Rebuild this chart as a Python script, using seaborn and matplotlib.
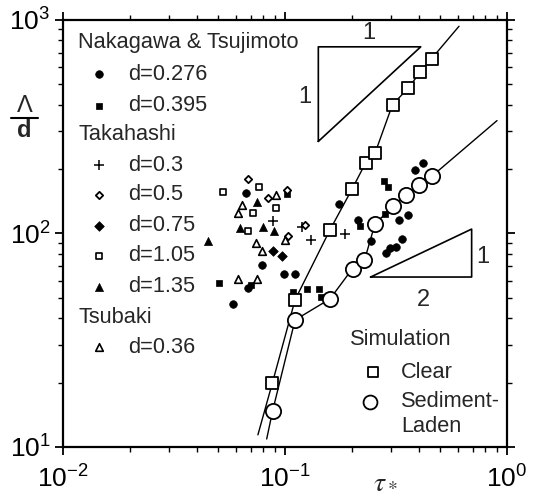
import matplotlib
matplotlib.use('Agg')
import matplotlib.pyplot as plt
import seaborn as sns
import pandas as pd
from matplotlib.lines import Line2D

sns.set_theme(style='ticks')
plt.rcParams['font.family'] = ['Liberation Sans', 'DejaVu Sans']

# ---------------- data (tau*, Lambda/d) ----------------
nak276_tau = [0.0667, 0.0788, 0.0990, 0.111, 0.0681, 0.0583, 0.1756, 0.2132, 0.2432,
              0.2851, 0.2972, 0.3178, 0.3365, 0.3262, 0.3583, 0.3850, 0.4164]
nak276_ld = [154.3, 70.8, 64.3, 64.3, 55.5, 46.7, 137.4, 115.7, 92.2,
             80.6, 85.2, 86.0, 93.9, 115.1, 121.7, 197.3, 212.8]

nak395_tau = [0.0504, 0.0703, 0.1021, 0.1092, 0.1260, 0.1423, 0.1453, 0.2177, 0.2792, 0.2896, 0.2822]
nak395_ld = [58.4, 57.4, 153.1, 53.2, 54.6, 54.7, 50.4, 108.4, 174.8, 164.6, 122.7]

tak03_tau = [0.0883, 0.1187, 0.1310, 0.1864]
tak03_ld = [114.4, 106.7, 92.7, 98.9]

tak05_tau = [0.0681, 0.0838, 0.1231, 0.1031, 0.1021]
tak05_ld = [180.0, 146.7, 109.0, 96.8, 159.0]

tak075_tau = [0.0883, 0.0969]
tak075_ld = [82.2, 77.9]

tak105_tau = [0.0524, 0.0761, 0.0721, 0.0683, 0.0911]
tak105_ld = [156.0, 164.3, 124.1, 102.2, 131.7]

tak135_tau = [0.0746, 0.0624, 0.0800, 0.0888, 0.0451]
tak135_ld = [140.4, 105.8, 107.3, 102.7, 92.2]

tsu036_tau = [0.0640, 0.0611, 0.0744, 0.0785, 0.0617, 0.0748, 0.0911, 0.1000]
tsu036_ld = [135.3, 124.1, 90.0, 82.2, 60.9, 61.2, 151.5, 93.2]

clear_tau = [0.0878, 0.1110, 0.1595, 0.2003, 0.2305, 0.2544, 0.305, 0.360, 0.4056, 0.458]
clear_ld = [20.0, 48.8, 103.8, 160.7, 212.8, 237.0, 400.0, 478.7, 566.0, 656.8]
clear_line_tau = [0.0755] + clear_tau + [0.608]
clear_line_ld = [11.4] + clear_ld + [930.0]

sed_tau = [0.0880, 0.1110, 0.1595, 0.2014, 0.228, 0.2544, 0.3075, 0.3508, 0.4027, 0.458]
sed_ld = [14.8, 39.3, 49.3, 68.3, 74.7, 110.8, 133.6, 151.5, 168.7, 184.6]
sed_line_tau = [0.0827] + sed_tau + [0.9016]
sed_line_ld = [10.9] + sed_ld + [336.5]

# slope triangles (annotation guides)
tri1_tau = [0.1413, 0.1413, 0.4087, 0.1413]
tri1_ld = [269, 745, 745, 269]
tri2_tau = [0.243, 0.693, 0.693, 0.243]
tri2_ld = [62.4, 62.4, 104.6, 62.4]

xtick_vals = [0.01, 0.1, 1]
xtick_labels = [r'$\mathregular{10^{-2}}$', r'$\mathregular{10^{-1}}$', r'$\mathregular{10^{0}}$']
ytick_vals = [10, 100, 1000]
ytick_labels = [r'$\mathregular{10^{1}}$', r'$\mathregular{10^{2}}$', r'$\mathregular{10^{3}}$']

# ---------------- figure ----------------
W, H = 534, 495
fig = plt.figure(figsize=(W / 100, H / 100), dpi=100)
ax = fig.add_axes([63 / W, 1 - 447 / H, 444 / W, 427.5 / H])
ax.set_xscale('log')
ax.set_yscale('log')
ax.set_xlim(0.01, 1)
ax.set_ylim(10, 1000)

# simulation lines
sns.lineplot(x=clear_line_tau, y=clear_line_ld, sort=False, estimator=None,
             color='black', lw=1.0, ax=ax, zorder=2)
sns.lineplot(x=sed_line_tau, y=sed_line_ld, sort=False, estimator=None,
             color='black', lw=1.0, ax=ax, zorder=2)

# experimental series
series = [
    (nak276_tau, nak276_ld, dict(marker='o', s=30, color='black', edgecolor='black', linewidth=0.5)),
    (nak395_tau, nak395_ld, dict(marker='s', s=24, color='black', edgecolor='black', linewidth=0.5)),
    (tak03_tau, tak03_ld, dict(marker='+', s=45, color='black', linewidth=1.1)),
    (tak05_tau, tak05_ld, dict(marker='D', s=14, color='white', edgecolor='black', linewidth=1.3)),
    (tak075_tau, tak075_ld, dict(marker='D', s=24, color='black', edgecolor='black', linewidth=0.5)),
    (tak105_tau, tak105_ld, dict(marker='s', s=24, color='white', edgecolor='black', linewidth=1.2)),
    (tak135_tau, tak135_ld, dict(marker='^', s=34, color='black', edgecolor='black', linewidth=0.5)),
    (tsu036_tau, tsu036_ld, dict(marker='^', s=30, color='white', edgecolor='black', linewidth=1.2)),
]
for tx, ly, kw in series:
    sns.scatterplot(x=tx, y=ly, ax=ax, zorder=3, legend=False, **kw)

# simulation markers
sns.scatterplot(x=clear_tau, y=clear_ld, ax=ax, marker='s', s=80, color='white',
                edgecolor='black', linewidth=1.3, zorder=4, legend=False)
sns.scatterplot(x=sed_tau, y=sed_ld, ax=ax, marker='o', s=120, color='white',
                edgecolor='black', linewidth=1.3, zorder=4, legend=False)

# slope triangles
ax.plot(tri1_tau, tri1_ld, color='black', lw=1.2)
ax.plot(tri2_tau, tri2_ld, color='black', lw=1.2)
ax.text(0.688, 0.968, '1', transform=ax.transAxes, ha='center', va='center', fontsize=17)
ax.text(0.545, 0.819, '1', transform=ax.transAxes, ha='center', va='center', fontsize=17)
ax.text(0.812, 0.344, '2', transform=ax.transAxes, ha='center', va='center', fontsize=17)
ax.text(0.946, 0.445, '1', transform=ax.transAxes, ha='center', va='center', fontsize=17)

# manual legend (experiments)
fs = 15.7
mx, tx0, hx = 0.081, 0.1475, 0.034
ax.text(hx, 0.947, 'Nakagawa & Tsujimoto', transform=ax.transAxes, va='center', fontsize=fs)
ax.text(hx, 0.730, 'Takahashi', transform=ax.transAxes, va='center', fontsize=fs)
ax.text(hx, 0.304, 'Tsubaki', transform=ax.transAxes, va='center', fontsize=fs)
leg_rows = [
    (0.8725, 'd=0.276', series[0][2]),
    (0.7977, 'd=0.395', series[1][2]),
    (0.6596, 'd=0.3', series[2][2]),
    (0.5895, 'd=0.5', series[3][2]),
    (0.5181, 'd=0.75', series[4][2]),
    (0.4468, 'd=1.05', series[5][2]),
    (0.3743, 'd=1.35', series[6][2]),
    (0.2339, 'd=0.36', series[7][2]),
]
for fy, lab, kw in leg_rows:
    ax.scatter([mx], [fy], transform=ax.transAxes, clip_on=False, zorder=5, **kw)
    ax.text(tx0, fy, lab, transform=ax.transAxes, va='center', fontsize=fs)

# simulation legend
ax.text(0.646, 0.2526, 'Simulation', transform=ax.transAxes, va='center', fontsize=fs)
ax.scatter([0.699], [0.1754], transform=ax.transAxes, marker='s', s=55, color='white',
           edgecolor='black', linewidth=1.3, zorder=5)
ax.text(0.761, 0.1754, 'Clear', transform=ax.transAxes, va='center', fontsize=fs)
ax.scatter([0.6914], [0.1053], transform=ax.transAxes, marker='o', s=100, color='white',
           edgecolor='black', linewidth=1.3, zorder=5)
ax.text(0.761, 0.1053, 'Sediment-', transform=ax.transAxes, va='center', fontsize=fs)
ax.text(0.761, 0.0468, 'Laden', transform=ax.transAxes, va='center', fontsize=fs)

# axes styling
for sp in ax.spines.values():
    sp.set_linewidth(1.6)
    sp.set_color('black')
ax.set_xticks(xtick_vals)
ax.set_xticklabels(xtick_labels, fontsize=19)
ax.set_yticks(ytick_vals)
ax.set_yticklabels(ytick_labels, fontsize=19)
ax.tick_params(which='both', direction='out', top=True, right=True, colors='black')
ax.tick_params(which='major', length=6, width=1.3)
ax.tick_params(which='minor', length=3.5, width=1.0)
ax.tick_params(axis='x', which='major', pad=7)
ax.tick_params(axis='y', which='major', pad=3)
ax.grid(False)

# axis labels
fig.text(25 / W, 1 - 106 / H, 'Λ', ha='center', va='center', fontsize=17)
fig.add_artist(Line2D([11 / W, 38 / W], [1 - 117.5 / H, 1 - 117.5 / H], color='black', lw=1.5))
fig.text(24 / W, 1 - 131 / H, 'd', ha='center', va='center', fontsize=17, fontweight='bold')
fig.text(385 / W, 1 - 481 / H, r'$\tau_*$', ha='center', va='center', fontsize=20, math_fontfamily='stix')

fig.savefig('out.png', dpi=100)
